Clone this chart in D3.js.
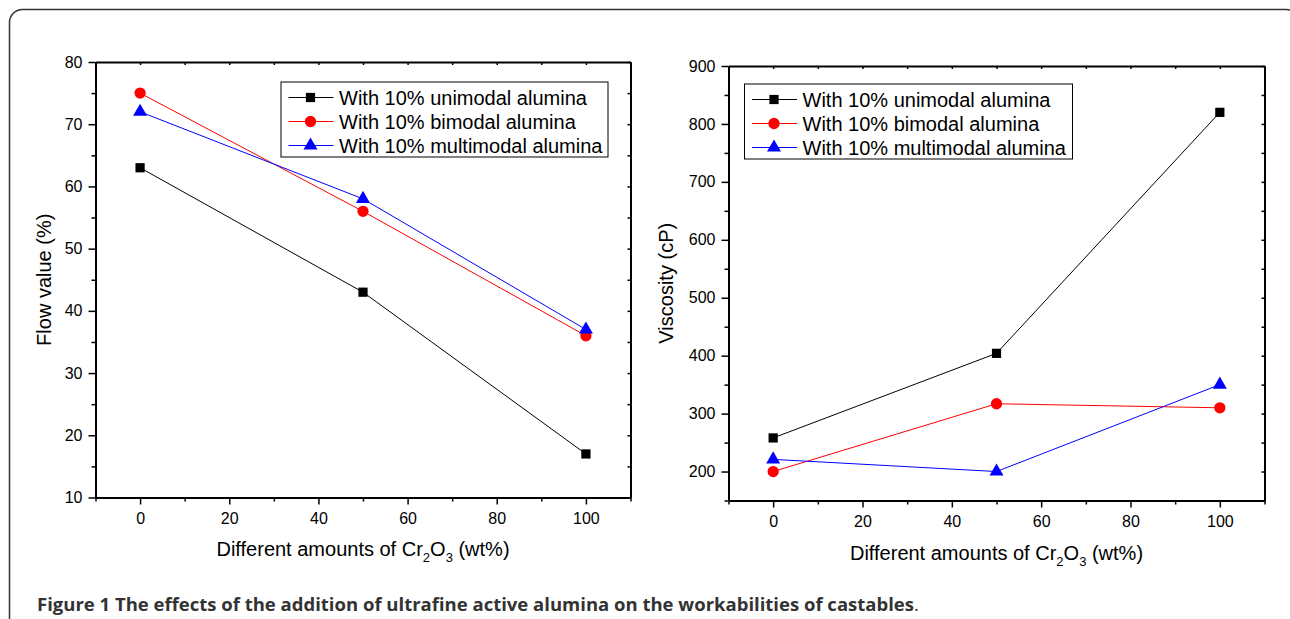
<!DOCTYPE html>
<html>
<head>
<meta charset="utf-8">
<script src="https://cdn.jsdelivr.net/npm/d3@7"></script>
<style>
  body { margin: 0; background: #fff; }
  svg { display: block; }
  .axis path, .axis line { stroke: #000; }
  .axis path { stroke-width: 2; }
  .axis line { stroke-width: 1.5; }
</style>
</head>
<body>
<div id="chart"></div>
<script>

// data
var cr2o3 = [0, 50, 100];
var seriesNames = ['With 10% unimodal alumina', 'With 10% bimodal alumina', 'With 10% multimodal alumina'];
var seriesColors = ['#000000', '#ff0000', '#0000ff'];

var flowUnimodal = [63, 43, 17];
var flowBimodal = [75, 56, 36];
var flowMultimodal = [72, 58, 37];

var viscUnimodal = [258, 404, 820];
var viscBimodal = [200, 317, 310];
var viscMultimodal = [221, 200, 350];

var xTicks = d3.range(0, 101, 20);
var xMinor = d3.range(-10, 111, 10).filter(function(v){ return v % 20 !== 0; });
var flowTicks = d3.range(10, 81, 10);
var flowMinor = d3.range(15, 80, 10);
var viscTicks = d3.range(200, 901, 100);
var viscMinor = d3.range(150, 900, 100);

var font = '"Liberation Sans", Arial, sans-serif';

var svg = d3.select('#chart').append('svg')
	.attr('width', 1290)
	.attr('height', 619);

// frame around the figure
svg.append('rect')
	.attr('x', 9.5).attr('y', 9.5)
	.attr('width', 1290).attr('height', 660)
	.attr('rx', 13)
	.attr('fill', 'none')
	.attr('stroke', '#333')
	.attr('stroke-width', 1.5);

var symbols = [d3.symbolSquare, d3.symbolCircle, d3.symbolTriangle];
var symbolSizes = [85, 100, 85];

function styleTicks(sel) {
	sel.attr('font-family', font).attr('font-size', 16);
	sel.selectAll('text').attr('fill', '#000');
}

function drawPlot(opt) {
	var g = svg.append('g');
	var x = d3.scaleLinear().domain([-10, 110]).range(opt.xRange);
	var y = d3.scaleLinear().domain(opt.yDomain).range(opt.yRange);
	var x0 = opt.xRange[0], x1 = opt.xRange[1], y0 = opt.yRange[0], y1 = opt.yRange[1];

	// bottom axis, major + minor
	g.append('g').attr('class', 'axis')
		.attr('transform', 'translate(0,' + y0 + ')')
		.call(d3.axisBottom(x).tickValues(xTicks).tickSize(7).tickSizeOuter(0).tickPadding(8))
		.call(styleTicks);
	g.append('g').attr('class', 'axis')
		.attr('transform', 'translate(0,' + y0 + ')')
		.call(d3.axisBottom(x).tickValues(xMinor).tickSize(4).tickSizeOuter(0).tickFormat(''));

	// left axis
	g.append('g').attr('class', 'axis')
		.attr('transform', 'translate(' + x0 + ',0)')
		.call(d3.axisLeft(y).tickValues(opt.yTicks).tickSize(7).tickSizeOuter(0).tickPadding(6))
		.call(styleTicks);
	g.append('g').attr('class', 'axis')
		.attr('transform', 'translate(' + x0 + ',0)')
		.call(d3.axisLeft(y).tickValues(opt.yMinor).tickSize(4).tickSizeOuter(0).tickFormat(''));

	// top + right, inward ticks only
	g.append('g').attr('class', 'axis')
		.attr('transform', 'translate(0,' + y1 + ')')
		.call(d3.axisTop(x).tickValues(xTicks.concat(xMinor)).tickSize(-3).tickSizeOuter(0).tickFormat(''));
	g.append('g').attr('class', 'axis')
		.attr('transform', 'translate(' + x1 + ',0)')
		.call(d3.axisRight(y).tickValues(opt.yTicks.concat(opt.yMinor)).tickSize(-3).tickSizeOuter(0).tickFormat(''));

	// series
	var line = d3.line()
		.x(function(d, i){ return x(cr2o3[i]); })
		.y(function(d){ return y(d); });

	opt.series.forEach(function(vals, k) {
		g.append('path')
			.attr('d', line(vals))
			.attr('fill', 'none')
			.attr('stroke', seriesColors[k])
			.attr('stroke-width', 1);
		g.selectAll('.pt' + k)
			.data(vals)
			.enter().append('path')
				.attr('class', 'pt' + k)
				.attr('transform', function(d, i){ return 'translate(' + x(cr2o3[i]) + ',' + y(d) + ')'; })
				.attr('d', d3.symbol().type(symbols[k]).size(symbolSizes[k]))
				.attr('fill', seriesColors[k]);
	});

	// legend
	var lg = g.append('g').attr('transform', 'translate(' + opt.legend[0] + ',' + opt.legend[1] + ')');
	lg.append('rect')
		.attr('x', 0).attr('y', 0)
		.attr('width', opt.legend[2]).attr('height', opt.legend[3])
		.attr('fill', '#fff')
		.attr('stroke', '#000')
		.attr('stroke-width', 1);
	seriesNames.forEach(function(name, k) {
		var cy = 15.5 + k * 24;
		lg.append('line')
			.attr('x1', 7.5).attr('x2', 52.5)
			.attr('y1', cy).attr('y2', cy)
			.attr('stroke', seriesColors[k]).attr('stroke-width', 1);
		lg.append('path')
			.attr('transform', 'translate(29.5,' + cy + ')')
			.attr('d', d3.symbol().type(symbols[k]).size(symbolSizes[k]))
			.attr('fill', seriesColors[k]);
		lg.append('text')
			.attr('x', 58).attr('y', cy + 7)
			.attr('font-family', font)
			.attr('font-size', 20)
			.text(name);
	});

	// axis titles
	g.append('text')
		.attr('transform', 'translate(' + opt.yLabelX + ',' + ((y0 + y1) / 2) + ') rotate(-90)')
		.attr('text-anchor', 'middle')
		.attr('font-family', font)
		.attr('font-size', 20)
		.text(opt.yLabel);

	var xt = g.append('text')
		.attr('x', (x0 + x1) / 2)
		.attr('y', opt.xLabelY)
		.attr('text-anchor', 'middle')
		.attr('font-family', font)
		.attr('font-size', 20);
	xt.append('tspan').text('Different amounts of Cr');
	xt.append('tspan').attr('dy', 6).attr('font-size', 13).text('2');
	xt.append('tspan').attr('dy', -6).text('O');
	xt.append('tspan').attr('dy', 6).attr('font-size', 13).text('3');
	xt.append('tspan').attr('dy', -6).text(' (wt%)');
}

drawPlot({
	xRange: [95.5, 630.5],
	yRange: [497.5, 62],
	yDomain: [10, 80],
	yTicks: flowTicks,
	yMinor: flowMinor,
	series: [flowUnimodal, flowBimodal, flowMultimodal],
	legend: [281, 82, 327, 75],
	yLabel: 'Flow value (%)',
	yLabelX: 51,
	xLabelY: 556
});

drawPlot({
	xRange: [728.5, 1264.5],
	yRange: [500.5, 66],
	yDomain: [150, 900],
	yTicks: viscTicks,
	yMinor: viscMinor,
	series: [viscUnimodal, viscBimodal, viscMultimodal],
	legend: [744.5, 84, 328, 75],
	yLabel: 'Viscosity (cP)',
	yLabelX: 673,
	xLabelY: 560
});

// caption
var cap = svg.append('text')
	.attr('x', 37).attr('y', 611)
	.attr('font-family', '"Open Sans", "Noto Sans", sans-serif')
	.attr('font-size', 18.5)
	.attr('fill', '#333');
cap.append('tspan').attr('font-weight', 'bold')
	.text('Figure 1 The effects of the addition of ultrafine active alumina on the workabilities of castables');
cap.append('tspan').text('.');

</script>
</body>
</html>
